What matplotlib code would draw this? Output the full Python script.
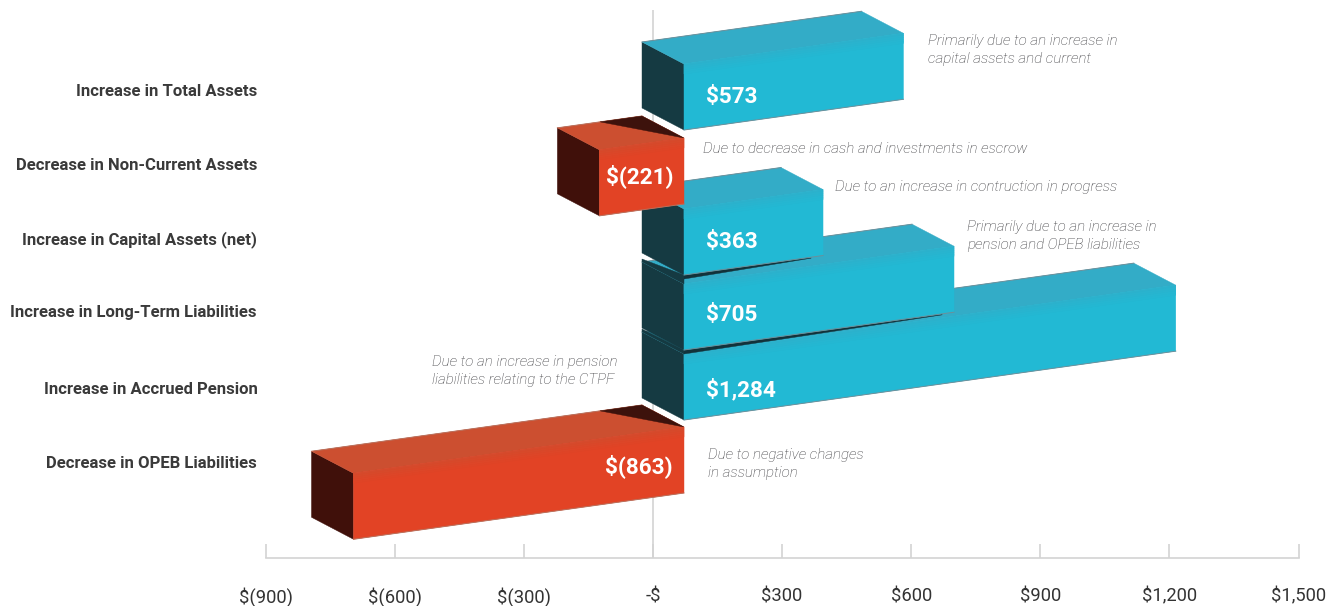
'''
Financial position changes drawn as skewed 3D blocks on a dollar axis
'''
import matplotlib
matplotlib.use('Agg')
import matplotlib.pyplot as plt
from matplotlib.colors import to_rgb
from matplotlib.patches import Polygon

W, H = 1338, 606

#%% data
row_labels = ['Increase in Total Assets', 'Decrease in Non-Current Assets',
              'Increase in Capital Assets (net)', 'Increase in Long-Term Liabilities',
              'Increase in Accrued Pension', 'Decrease in OPEB Liabilities']
values = [573, -221, 363, 705, 1284, -863]
value_labels = ['$573', '$(221)', '$363', '$705', '$1,284', '$(863)']
notes = ['Primarily due to an increase in\ncapital assets and current',
         'Due to decrease in cash and investments in escrow',
         'Due to an increase in contruction in progress',
         'Primarily due to an increase in\npension and OPEB liabilities',
         'Due to an increase in pension\nliabilities relating to the CTPF',
         'Due to negative changes\nin assumption']
tick_values = [-900, -600, -300, 0, 300, 600, 900, 1200, 1500]
tick_labels = ['$(900)', '$(600)', '$(300)', '-$', '$300', '$600', '$900', '$1,200', '$1,500']

#%% layout, in reference pixels
front_bottom = [130, 204, 275, 350, 420, 493]   # y of the block's front corner at x=684
label_xy = [(257, 91), (257, 165), (257, 240), (256, 313), (258, 390), (257, 463)]
value_y = [97, 176, 242, 315, 390, 466]
note_xy = [(928, 50), (703, 149), (835, 187), (967, 236), (432, 371), (708, 464)]

AX_LEFT, AX_RIGHT, AX_BOTTOM, AX_TOP = 265.5, 1298.5, 558, 10
FRONT_X = 684
BAR_PX = 0.383      # px per dollar along a block
SKEW = 0.14         # rise per px along a block
DEPTH_X, DEPTH_Y = 42, 22
BLOCK_H = 66

TEAL = {'front': '#22b9d4', 'top': '#33acc7', 'side': '#153a42', 'edge': '#6d8f9a'}
RED = {'front': '#e24325', 'top': '#cc4f30', 'side': '#40100a', 'edge': '#b8705c'}
SHADOW = '#12323a'
DARK_TRI = '#3d120c'

plt.rcParams['font.family'] = ['Roboto', 'DejaVu Sans']
fig = plt.figure(figsize=(W / 100, H / 100), dpi=100)
ax = fig.add_axes([AX_LEFT / W, 1 - AX_BOTTOM / H, (AX_RIGHT - AX_LEFT) / W, (AX_BOTTOM - AX_TOP) / H])
ax.set_xlim(tick_values[0], tick_values[-1])
ax.set_ylim(AX_BOTTOM, AX_TOP)     # y runs in pixels
dollars_per_px = (tick_values[-1] - tick_values[0]) / (AX_RIGHT - AX_LEFT)


def to_x(px):
    return tick_values[0] + (px - AX_LEFT) * dollars_per_px


def fig_text(px, py, s, **kw):
    fig.text(px / W, 1 - py / H, s, **kw)


def add_poly(pts, color, z):
    ax.add_patch(Polygon([(to_x(x), y) for x, y in pts], closed=True, fc=color, ec=color,
                         lw=0.3, zorder=z, clip_on=False))


def add_edge(x0, y0, x1, y1, color, z):
    ax.plot([to_x(x0), to_x(x1)], [y0, y1], color=color, lw=0.7, zorder=z, clip_on=False)


def draw_block(value, bottom, colors, z):
    length = value * BAR_PX
    x_end = FRONT_X + length
    y_end = bottom - length * SKEW
    # side face sits on the far end for negative values, at the axis end for positive
    sx = FRONT_X if value > 0 else x_end
    sy = bottom if value > 0 else y_end
    add_poly([(sx, sy), (sx, sy - BLOCK_H), (sx - DEPTH_X, sy - BLOCK_H - DEPTH_Y), (sx - DEPTH_X, sy - DEPTH_Y)],
             colors['side'], z)
    add_poly([(FRONT_X, bottom - BLOCK_H), (x_end, y_end - BLOCK_H),
              (x_end - DEPTH_X, y_end - BLOCK_H - DEPTH_Y), (FRONT_X - DEPTH_X, bottom - BLOCK_H - DEPTH_Y)],
             colors['top'], z)
    add_edge(FRONT_X - DEPTH_X, bottom - BLOCK_H - DEPTH_Y, x_end - DEPTH_X, y_end - BLOCK_H - DEPTH_Y,
             colors['edge'], z)
    if value < 0:
        # dark wedge where the block's own inner end shows
        add_poly([(FRONT_X, bottom - BLOCK_H), (FRONT_X - DEPTH_X, bottom - BLOCK_H - DEPTH_Y),
                  (FRONT_X - DEPTH_X - 42, bottom - BLOCK_H - DEPTH_Y + 42 * SKEW)], DARK_TRI, z)
    add_poly([(FRONT_X, bottom), (FRONT_X, bottom - BLOCK_H), (x_end, y_end - BLOCK_H), (x_end, y_end)],
             colors['front'], z)
    add_edge(FRONT_X, bottom, x_end, y_end, colors['edge'], z)
    # soft blend from the top face into the front face
    top_rgb, front_rgb = to_rgb(colors['top']), to_rgb(colors['front'])
    steps = 5
    for k in range(steps):
        t = 0.4 + 0.6 * k / steps
        mix = tuple(a + (b - a) * t for a, b in zip(top_rgb, front_rgb))
        y_off = k * 2
        add_poly([(FRONT_X, bottom - BLOCK_H + y_off), (x_end, y_end - BLOCK_H + y_off),
                  (x_end, y_end - BLOCK_H + y_off + 2), (FRONT_X, bottom - BLOCK_H + y_off + 2)], mix, z)


# axis: line, ticks and the zero guide sit behind the blocks
ax.set_xticks(tick_values)
ax.set_xticklabels(tick_labels, fontsize=13.2, color='#333333')
ax.set_yticks([])
ax.tick_params(axis='x', direction='in', length=10, width=1.2, color='#d3d3d3', pad=21)
for side in ['top', 'left', 'right']:
    ax.spines[side].set_visible(False)
ax.spines['bottom'].set_color('#d3d3d3')
ax.spines['bottom'].set_linewidth(1.2)
ax.patch.set_alpha(0)
ax.axvline(0, color='#d3d3d3', lw=1.2, zorder=1)

# stacked from the bottom row up so the upper blocks overlap the lower ones
for i in range(len(values) - 1, -1, -1):
    z = 10 + (len(values) - i) * 2
    draw_block(values[i], front_bottom[i], TEAL if values[i] > 0 else RED, z)
    # contact shadow from the block above
    if i > 0 and values[i] > 0 and values[i - 1] > 0 and values[i - 1] < values[i]:
        up_len = values[i - 1] * BAR_PX - 12
        up_b = front_bottom[i - 1]
        add_poly([(FRONT_X, up_b - 1), (FRONT_X + up_len, up_b - up_len * SKEW - 1),
                  (FRONT_X + up_len, up_b - up_len * SKEW + 1), (FRONT_X, up_b + 4)], SHADOW, z + 1)
        low_b = front_bottom[i]
        add_poly([(FRONT_X, low_b - BLOCK_H), (FRONT_X - DEPTH_X, low_b - BLOCK_H - DEPTH_Y),
                  (FRONT_X - DEPTH_X, low_b - BLOCK_H - DEPTH_Y - 3), (FRONT_X, up_b)], TEAL['side'], z + 1)

for i, lab in enumerate(row_labels):
    fig_text(label_xy[i][0], label_xy[i][1], lab, ha='right', va='center', fontsize=12, fontweight='bold',
             color='#3a3a3a')

for i, lab in enumerate(value_labels):
    x, ha = (706, 'left') if values[i] > 0 else (673, 'right')
    fig_text(x, value_y[i], lab, ha=ha, va='center', fontsize=16.2, fontweight='bold', color='white', zorder=50)

for (x, y), note in zip(note_xy, notes):
    fig_text(x, y, note, ha='left', va='center', fontsize=10.9, style='italic', fontweight='light',
             color='#38383c', linespacing=1.45)

fig.savefig('out.png', dpi=100)
